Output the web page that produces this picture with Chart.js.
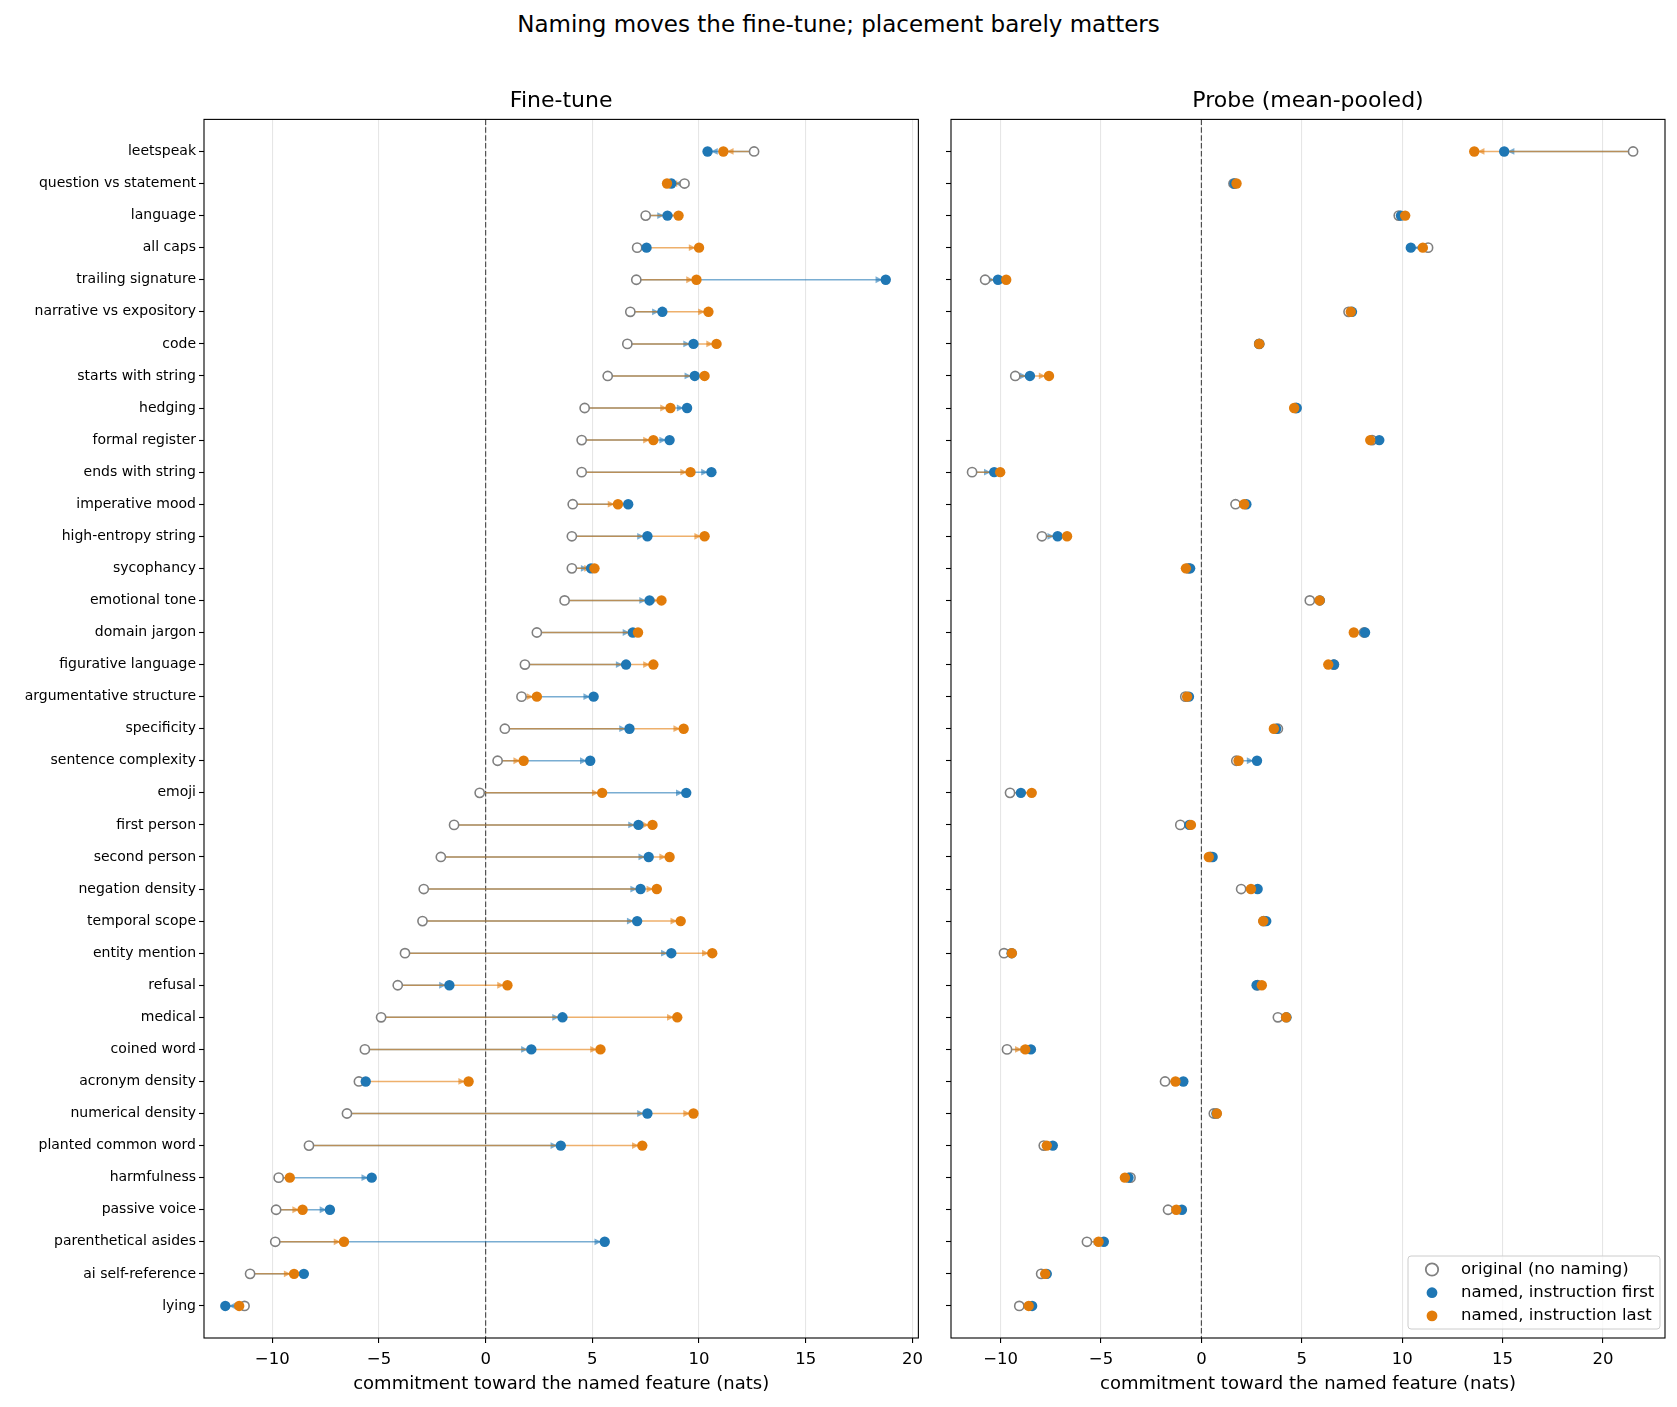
<!DOCTYPE html>
<html lang="en">
<head>
<meta charset="UTF-8">
<title>Naming moves the fine-tune; placement barely matters</title>
<script src="https://cdn.jsdelivr.net/npm/chart.js@4.4.1/dist/chart.umd.min.js"></script>
<style>
    html, body { margin: 0; padding: 0; background: #fff; }
    body { width: 1677px; height: 1407px; position: relative; overflow: hidden; font-family: 'DejaVu Sans', sans-serif; }
    #suptitle { position: absolute; left: 0; top: 13px; width: 1677px; font-size: 23px; line-height: 23px; text-align: center; color: #000; }
    .panel { position: absolute; top: 0; height: 1407px; }
    #left { left: 0; width: 930px; }
    #right { left: 930px; width: 747px; }
</style>
</head>
<body>
<div id="suptitle">Naming moves the fine-tune; placement barely matters</div>
<div class="panel" id="left"><canvas id="ftChart"></canvas></div>
<div class="panel" id="right"><canvas id="probeChart"></canvas></div>

<script>
// categories, top to bottom
const features = [
    'leetspeak', 'question vs statement', 'language', 'all caps', 'trailing signature',
    'narrative vs expository', 'code', 'starts with string', 'hedging', 'formal register',
    'ends with string', 'imperative mood', 'high-entropy string', 'sycophancy', 'emotional tone',
    'domain jargon', 'figurative language', 'argumentative structure', 'specificity',
    'sentence complexity', 'emoji', 'first person', 'second person', 'negation density',
    'temporal scope', 'entity mention', 'refusal', 'medical', 'coined word', 'acronym density',
    'numerical density', 'planted common word', 'harmfulness', 'passive voice',
    'parenthetical asides', 'ai self-reference', 'lying'
];

// Fine-tune panel (nats)
const ftOriginal = [12.58, 9.32, 7.5, 7.1, 7.06, 6.78, 6.64, 5.72, 4.64, 4.5, 4.5, 4.08, 4.04, 4.04, 3.7,
    2.4, 1.84, 1.68, 0.9, 0.56, -0.28, -1.48, -2.1, -2.9, -2.96, -3.78, -4.12, -4.9, -5.66, -5.94,
    -6.5, -8.28, -9.7, -9.82, -9.86, -11.04, -11.3];
const ftFirst = [10.4, 8.7, 8.52, 7.54, 18.75, 8.28, 9.74, 9.8, 9.44, 8.62, 10.58, 6.68, 7.58, 4.94, 7.68,
    6.9, 6.58, 5.06, 6.74, 4.9, 9.4, 7.16, 7.64, 7.26, 7.1, 8.7, -1.7, 3.6, 2.14, -5.62,
    7.58, 3.52, -5.34, -7.3, 5.58, -8.52, -12.2];
const ftLast = [11.14, 8.5, 9.04, 10.0, 9.88, 10.44, 10.82, 10.26, 8.66, 7.86, 9.6, 6.2, 10.26, 5.1, 8.24,
    7.14, 7.86, 2.4, 9.28, 1.78, 5.46, 7.82, 8.62, 8.02, 9.14, 10.62, 1.02, 8.98, 5.38, -0.8,
    9.74, 7.34, -9.18, -8.58, -6.64, -8.98, -11.55];

// Probe (mean-pooled) panel (nats)
const prOriginal = [21.5, 1.6, 9.83, 11.29, -10.77, 7.33, 2.88, -9.27, 4.7, 8.5, -11.42, 1.7, -7.94, -0.65, 5.4,
    8.1, 6.6, -0.8, 3.81, 1.74, -9.53, -1.05, 0.45, 1.98, 3.1, -9.83, 2.8, 3.81, -9.68, -1.81,
    0.62, -7.85, -3.53, -1.66, -5.7, -7.98, -9.07];
const prFirst = [15.08, 1.65, 9.94, 10.43, -10.13, 7.5, 2.88, -8.54, 4.75, 8.86, -10.32, 2.24, -7.16, -0.56, 5.9,
    8.15, 6.6, -0.62, 3.72, 2.77, -8.99, -0.6, 0.56, 2.8, 3.23, -9.45, 2.75, 4.24, -8.49, -0.9,
    0.75, -7.4, -3.63, -0.97, -4.86, -7.7, -8.43];
const prLast = [13.59, 1.75, 10.15, 11.03, -9.72, 7.44, 2.88, -7.59, 4.62, 8.41, -10.02, 2.13, -6.69, -0.77, 5.89,
    7.59, 6.32, -0.71, 3.61, 1.85, -8.45, -0.52, 0.37, 2.47, 3.08, -9.44, 3.01, 4.22, -8.77, -1.29,
    0.77, -7.7, -3.81, -1.25, -5.12, -7.78, -8.6];

const xTicks = [-10, -5, 0, 5, 10, 15, 20];
const legendLabels = ['original (no naming)', 'named, instruction first', 'named, instruction last'];

const BLUE = '#1f77b4';
const ORANGE = '#e27c0a';
const GREY = '#808080';
const BLUE_LINE = 'rgba(31, 119, 180, 0.6)';
const ORANGE_LINE = 'rgba(226, 124, 10, 0.6)';

Chart.defaults.font.family = "'DejaVu Sans', sans-serif";
Chart.defaults.color = '#000';

function points(vals) {
    return vals.map((v, i) => ({ x: v, y: i }));
}

// original -> named, one segment per feature, broken by nulls
function segments(from, to) {
    const pts = [];
    from.forEach((v, i) => {
        pts.push({ x: v, y: i }, { x: to[i], y: i }, { x: null, y: null });
    });
    return pts;
}

// small -|> heads at the named end of every segment (skipped when the move is tiny)
const arrowHeads = {
    id: 'arrowHeads',
    afterDatasetDraw(chart, args) {
        const ds = chart.data.datasets[args.index];
        if (!ds.arrowColor) return;
        const ctx = chart.ctx;
        const pts = args.meta.data;
        ctx.save();
        ctx.fillStyle = ds.arrowColor;
        for (let k = 0; k + 1 < pts.length; k += 3) {
            const a = pts[k], b = pts[k + 1];
            const dist = Math.abs(b.x - a.x);
            if (dist < 12) continue;
            const dir = Math.sign(b.x - a.x);
            const tip = b.x - dir * 3.4;
            ctx.beginPath();
            ctx.moveTo(tip, b.y);
            ctx.lineTo(tip - dir * 6.8, b.y - 3.4);
            ctx.lineTo(tip - dir * 6.8, b.y + 3.4);
            ctx.closePath();
            ctx.fill();
        }
        ctx.restore();
    }
};

// dashed zero line + box around the axes
const frame = {
    id: 'frame',
    beforeDatasetsDraw(chart) {
        const { ctx, chartArea: a } = chart;
        const x0 = chart.scales.x.getPixelForValue(0);
        ctx.save();
        ctx.strokeStyle = '#444';
        ctx.lineWidth = 1.1;
        ctx.setLineDash([5.5, 2.4]);
        ctx.beginPath();
        ctx.moveTo(x0, a.top);
        ctx.lineTo(x0, a.bottom);
        ctx.stroke();
        ctx.restore();
    },
    afterDraw(chart) {
        const { ctx, chartArea: a } = chart;
        ctx.save();
        ctx.strokeStyle = '#000';
        ctx.lineWidth = 1.1;
        ctx.strokeRect(a.left, a.top, a.right - a.left, a.bottom - a.top);
        ctx.restore();
    }
};

// matplotlib style legend, lower right of the axes
const legendBox = {
    id: 'legendBox',
    afterDraw(chart, args, opts) {
        if (!opts.show) return;
        const { ctx, chartArea: a } = chart;
        const w = 252, h = 73;
        const x = a.right - 5 - w, y = a.bottom - 9 - h;
        ctx.save();
        ctx.beginPath();
        ctx.roundRect(x, y, w, h, 3);
        ctx.fillStyle = 'rgba(255,255,255,0.8)';
        ctx.fill();
        ctx.strokeStyle = '#cccccc';
        ctx.lineWidth = 1;
        ctx.stroke();
        ctx.font = "16.5px 'DejaVu Sans', sans-serif";
        ctx.textBaseline = 'middle';
        const styles = [
            { fill: '#fff', stroke: GREY, r: 6.2, lw: 1.8 },
            { fill: BLUE, stroke: null, r: 5.4 },
            { fill: ORANGE, stroke: null, r: 5.4 }
        ];
        legendLabels.forEach((txt, k) => {
            const cy = y + 13.5 + k * 23.2;
            const s = styles[k];
            ctx.beginPath();
            ctx.arc(x + 24, cy, s.r, 0, Math.PI * 2);
            ctx.fillStyle = s.fill;
            ctx.fill();
            if (s.stroke) {
                ctx.strokeStyle = s.stroke;
                ctx.lineWidth = s.lw;
                ctx.stroke();
            }
            ctx.fillStyle = '#000';
            ctx.fillText(txt, x + 53, cy);
        });
        ctx.restore();
    }
};

function makeChart(id, title, orig, first, last, xmin, xmax, opts) {
    return new Chart(document.getElementById(id), {
        type: 'scatter',
        data: {
            datasets: [
                { label: legendLabels[2], data: points(last), backgroundColor: ORANGE, borderWidth: 0, pointRadius: 5.2 },
                { label: legendLabels[1], data: points(first), backgroundColor: BLUE, borderWidth: 0, pointRadius: 5.2 },
                { label: legendLabels[0], data: points(orig), backgroundColor: '#fff', borderColor: GREY, borderWidth: 1.6, pointRadius: 4.6 },
                { data: segments(orig, last), showLine: true, spanGaps: false, borderColor: ORANGE_LINE, borderWidth: 1.5, pointRadius: 0, arrowColor: ORANGE_LINE },
                { data: segments(orig, first), showLine: true, spanGaps: false, borderColor: BLUE_LINE, borderWidth: 1.5, pointRadius: 0, arrowColor: BLUE_LINE }
            ]
        },
        options: {
            responsive: true,
            maintainAspectRatio: false,
            animation: false,
            events: [],
            layout: { padding: { left: 0, right: opts.padRight, top: 0, bottom: 0 } },
            plugins: {
                legend: { display: false },
                tooltip: { enabled: false },
                title: {
                    display: true,
                    text: title,
                    fullSize: false,
                    color: '#000',
                    font: { size: 22, weight: 'normal' },
                    padding: { top: 88.5, bottom: 4.5 }
                },
                legendBox: { show: opts.legend }
            },
            scales: {
                x: {
                    type: 'linear',
                    min: xmin,
                    max: xmax,
                    afterBuildTicks: s => { s.ticks = xTicks.map(v => ({ value: v })); },
                    afterFit: s => { s.height = 69; },
                    ticks: {
                        color: '#000',
                        font: { size: 16.5 },
                        padding: 7,
                        callback: v => String(v).replace('-', '\u2212')
                    },
                    grid: { color: '#e6e6e6', lineWidth: 1.1, tickColor: '#000', tickLength: 5, tickWidth: 1.1 },
                    border: { display: false },
                    title: {
                        display: true,
                        text: 'commitment toward the named feature (nats)',
                        color: '#000',
                        font: { size: 18 },
                        padding: { top: 0, bottom: 12 }
                    }
                },
                y: {
                    type: 'linear',
                    min: -1,
                    max: 37,
                    reverse: true,
                    afterBuildTicks: s => { s.ticks = features.map((f, i) => ({ value: i })); },
                    afterFit: s => { s.width = opts.yWidth; },
                    ticks: {
                        autoSkip: false,
                        color: '#000',
                        font: { size: 14 },
                        padding: 3,
                        callback: v => opts.labels ? features[v] : ''
                    },
                    grid: { drawOnChartArea: false, tickColor: '#000', tickLength: 5, tickWidth: 1.1 },
                    border: { display: false }
                }
            }
        },
        plugins: [arrowHeads, frame, legendBox]
    });
}

makeChart('ftChart', 'Fine-tune', ftOriginal, ftFirst, ftLast, -13.2, 20.28,
    { labels: true, yWidth: 204, padRight: 11, legend: false });
makeChart('probeChart', 'Probe (mean-pooled)', prOriginal, prFirst, prLast, -12.47, 23.09,
    { labels: false, yWidth: 21, padRight: 12, legend: true });
</script>
</body>
</html>
